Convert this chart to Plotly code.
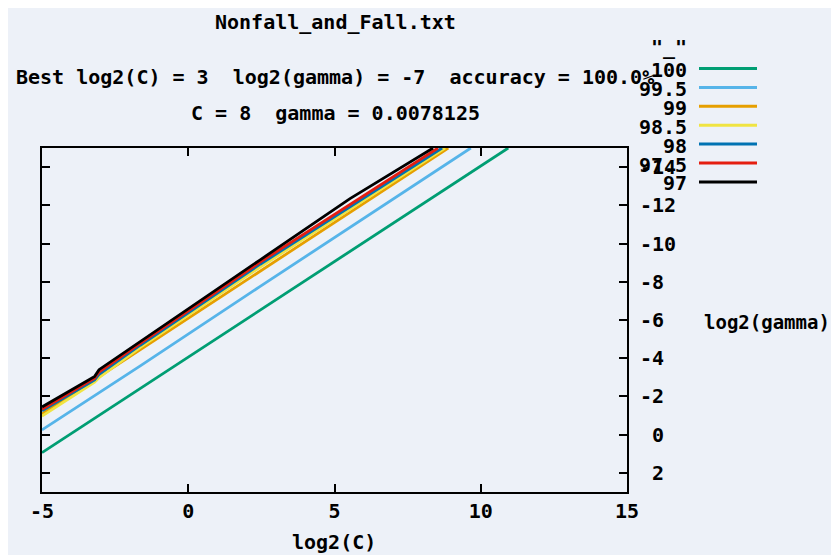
import plotly.graph_objects as go

# ---- data ----
levels = ["100", "99.5", "99", "98.5", "98", "97.5", "97"]
colors = ["#009E73", "#56B4E9", "#E69F00", "#F0E442", "#0072B2", "#E51E10", "#000000"]

x_100 = [-5, 2.49, 10.94]
y_100 = [0.94, -6.56, -15]
x_995 = [-5, -1.64, 2.46, 9.66]
y_995 = [-0.25, -3.6, -7.76, -15]
x_99 = [-5, -1.64, 2.46, 8.89]
y_99 = [-1.08, -4.44, -8.57, -15]
x_985 = [-5, -3.2, -3.05, -1.64, 2.46, 8.78]
y_985 = [-0.97, -2.75, -2.98, -4.57, -8.77, -15]
x_98 = [-5, -3.2, -3.05, -1.64, 2.46, 8.68]
y_98 = [-1.25, -2.87, -3.15, -4.68, -8.92, -15]
x_975 = [-5, -3.2, -3.05, -1.64, 2.46, 8.54]
y_975 = [-1.33, -2.95, -3.28, -4.78, -9.03, -15]
x_97 = [-5, -3.2, -3.05, -1.64, 2.46, 5.53, 8.37]
y_97 = [-1.45, -3.05, -3.4, -4.88, -9.15, -12.35, -15]

xs = [x_100, x_995, x_99, x_985, x_98, x_975, x_97]
ys = [y_100, y_995, y_99, y_985, y_98, y_975, y_97]

x_ticks = [-5, 0, 5, 10, 15]
y_ticks = [-14, -12, -10, -8, -6, -4, -2, 0, 2]
y_ticktext = [("\u00a0" + str(v)) if v >= 0 else str(v) for v in y_ticks]

title_lines = ["Nonfall_and_Fall.txt",
               "Best log2(C) = 3  log2(gamma) = -7  accuracy = 100.0%",
               "C = 8  gamma = 0.0078125"]
legend_title = '"_"'
x_title = "log2(C)"
y_title = "log2(gamma)"

# ---- layout geometry (page has an 8px body margin) ----
OFF = 8
W, H = 839, 555
ML, MT = 42 - OFF, 148 - OFF
PW, PH = 585, 344
MR, MB = W - ML - PW, H - MT - PH
BG = "#EDF1F8"
FONT = dict(family="DejaVu Sans Mono", size=20, color="black", weight="bold")


def px(x):  # screen pixel -> paper x
    return (x - OFF - ML) / PW


def py(y):  # screen pixel -> paper y
    return (MT + PH - (y - OFF)) / PH


fig = go.Figure()
for lv, c, xv, yv in zip(levels, colors, xs, ys):
    fig.add_trace(go.Scatter(x=xv, y=yv, mode="lines", name=lv,
                             line=dict(color=c, width=2.8), showlegend=False))

annotations = []
shapes = []
for txt, yy in zip(title_lines, [22, 77, 113]):
    annotations.append(dict(text=txt, x=px(335), y=py(yy), xref="paper", yref="paper",
                            xanchor="center", yanchor="middle", showarrow=False, font=FONT))
annotations.append(dict(text=legend_title, x=px(689), y=py(47), xref="paper", yref="paper",
                        xanchor="right", yanchor="middle", showarrow=False, font=FONT))
for i, (lv, c) in enumerate(zip(levels, colors)):
    ty = 70 + i * 18.9
    annotations.append(dict(text=lv, x=px(689), y=py(ty), xref="paper", yref="paper",
                            xanchor="right", yanchor="middle", showarrow=False, font=FONT))
    shapes.append(dict(type="line", xref="paper", yref="paper",
                       x0=px(699), x1=px(757), y0=py(ty - 1.5), y1=py(ty - 1.5),
                       line=dict(color=c, width=3)))
annotations.append(dict(text=x_title, x=px(334), y=py(542), xref="paper", yref="paper",
                        xanchor="center", yanchor="middle", showarrow=False, font=FONT))
annotations.append(dict(text=y_title, x=px(702), y=py(322), xref="paper", yref="paper",
                        xanchor="left", yanchor="middle", showarrow=False,
                        font=dict(FONT, size=19)))

fig.update_layout(
    width=W, height=H,
    margin=dict(l=ML, r=MR, t=MT, b=MB, pad=0),
    paper_bgcolor=BG, plot_bgcolor=BG,
    font=FONT,
    annotations=annotations, shapes=shapes,
    showlegend=False,
)
fig.update_xaxes(range=[-5, 15], tickvals=x_ticks, ticktext=[str(v) for v in x_ticks],
                 ticks="inside", ticklen=8, tickwidth=2, tickcolor="black",
                 showline=True, linecolor="black", linewidth=2, mirror="allticks",
                 showgrid=False, zeroline=False, tickfont=FONT)
fig.update_yaxes(range=[3, -15], tickvals=y_ticks, ticktext=y_ticktext, side="right",
                 ticks="inside", ticklen=8, tickwidth=2, tickcolor="black",
                 showline=True, linecolor="black", linewidth=2, mirror="allticks",
                 showgrid=False, zeroline=False, tickfont=FONT, ticklabelstandoff=7)

fig.write_html("out.html")
